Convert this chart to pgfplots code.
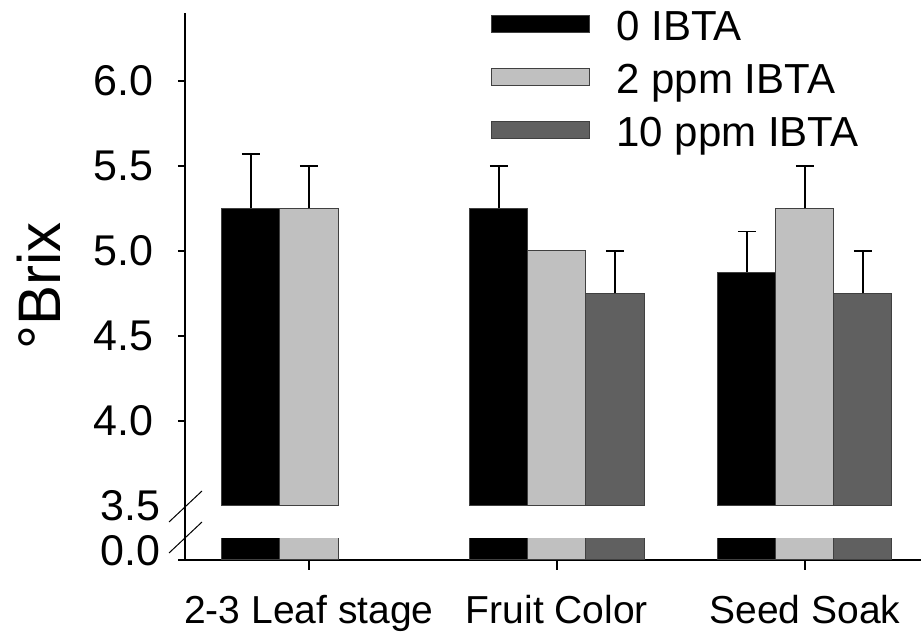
\documentclass[border=0pt]{standalone}
\usepackage{fontspec}
\setmainfont{Liberation Sans}
\usepackage{pgfplots}
\pgfplotsset{compat=1.18}

\definecolor{lightbar}{gray}{0.753}
\definecolor{darkbar}{gray}{0.376}

\pgfplotsset{
  brk/.style={
    scale only axis, width=368pt, xmin=-0.5, xmax=2.468,
    anchor=south west, clip=true,
    axis line style={line width=0.6pt},
    tick style={line width=0.6pt, black},
    tick align=outside,
    ticklabel style={font=\fontsize{21.5}{26}\selectfont},
    /pgf/number format/fixed,
    /pgf/number format/fixed zerofill,
    /pgf/number format/precision=1,
    /pgf/number format/assume math mode=true,
  },
  bars/.style={ybar, bar width=0.234, bar shift=0, draw=black!75, line width=0.5pt},
  errs/.style={error bars/.cd, y dir=plus, y explicit,
    error bar style={black, line width=0.6pt},
    error mark options={rotate=90, mark size=4.5pt, line width=0.8pt, black}},
}

\begin{document}
\begin{tikzpicture}
\useasboundingbox (0,0) rectangle (460.5pt,317.5pt);

% upper panel, 3.5 and up
% groups sit at 0, 1, 2; the three bars at -0.234, 0, +0.234 from them
\begin{axis}[brk, at={(92.5pt,64.5pt)}, height=246.5pt,
  ymin=3.5, ymax=6.4,
  axis x line=none, axis y line*=left,
  major tick length=3.5pt,
  ytick={4,4.5,5,5.5,6},
  extra y ticks={3.5}, extra y tick style={major tick length=0pt},
  yticklabel style={anchor=east, inner sep=0pt, xshift=-12pt},
  legend style={at={(0.4158,1.006)}, anchor=north west, draw=none, fill=none,
    inner sep=0pt, font=\fontsize{21}{25}\selectfont,
    nodes={inner sep=0pt, text height=15pt, text depth=4.5pt},
    row sep=7pt, legend cell align=left},
  legend image code/.code={\draw[#1] (0pt,-1.5pt) rectangle (49pt,7pt); \path (62pt,0pt);},
]
\addlegendimage{fill=black, draw=black!75, line width=0.5pt}
\addlegendentry{0 IBTA}
\addlegendimage{fill=lightbar, draw=black!75, line width=0.5pt}
\addlegendentry{2 ppm IBTA}
\addlegendimage{fill=darkbar, draw=black!75, line width=0.5pt}
\addlegendentry{10 ppm IBTA}

\addplot[bars, fill=black, errs] coordinates {
  (-0.234,5.25) +- (0,0.32)
  (0.766,5.25) +- (0,0.25)
  (1.766,4.875) +- (0,0.24)
};
\addplot[bars, fill=lightbar, errs] coordinates {
  (0,5.25) +- (0,0.25)
  (2,5.25) +- (0,0.25)
};
\addplot[bars, fill=lightbar] coordinates {(1,5.0)};
\addplot[bars, fill=darkbar, errs] coordinates {
  (1.234,4.75) +- (0,0.25)
  (2.234,4.75) +- (0,0.25)
};
\end{axis}

% lower panel, stub at zero
\begin{axis}[brk, at={(92.5pt,37.5pt)}, height=10.5pt,
  ymin=0, ymax=1,
  axis x line*=bottom, axis y line*=left,
  major tick length=5pt,
  xtick={0,1,2},
  xticklabels={2-3 Leaf stage, Fruit Color, Seed Soak},
  xticklabel style={font=\fontsize{19.5}{23}\selectfont, anchor=base, yshift=-27pt},
  ytick=\empty,
  extra y ticks={0}, extra y tick style={major tick length=0pt},
  yticklabel style={anchor=east, inner sep=0pt, yshift=4.5pt, xshift=-12pt},
]
\addplot[bars, fill=black] coordinates {(-0.234,2) (0.766,2) (1.766,2)};
\addplot[bars, fill=lightbar] coordinates {(0,2) (1,2) (2,2)};
\addplot[bars, fill=darkbar] coordinates {(1.234,2) (2.234,2)};
\end{axis}

% axis break
\draw[line width=0.6pt] (92.5pt,48pt) -- (92.5pt,64.5pt);
\draw[line width=0.6pt] (89pt,37.5pt) -- (92.5pt,37.5pt);
\draw[line width=0.5pt] (84.5pt,41pt) -- (101pt,56.5pt);
\draw[line width=0.5pt] (84.5pt,56.5pt) -- (101pt,72pt);

\node[rotate=90, anchor=base, inner sep=0pt, font=\fontsize{30}{36}\selectfont]
  at (30pt,174.5pt) {°Brix};
\end{tikzpicture}
\end{document}
